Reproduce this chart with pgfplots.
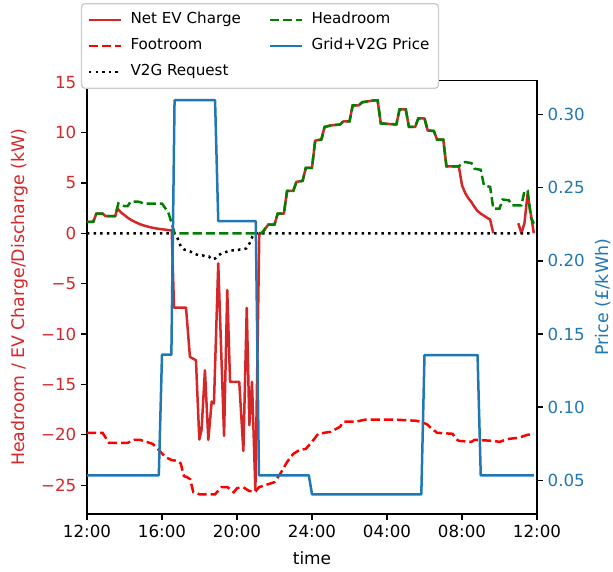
\documentclass[border=0pt]{standalone}
\usepackage{fontspec}
\setmainfont{DejaVu Sans}
\usepackage{pgfplots}
\pgfplotsset{compat=1.18}
\definecolor{tabred}{HTML}{D62728}
\definecolor{tabblue}{HTML}{1F77B4}
\definecolor{mplgreen}{HTML}{008000}
\definecolor{pured}{HTML}{FF0000}
\begin{document}
\begin{tikzpicture}
\pgfplotsset{
  every axis/.append style={
    scale only axis, width=324pt, height=312.1pt, xmin=0, xmax=24,
    at={(0pt,0pt)}, anchor=south west,
    axis line style={line width=0.96pt},
    tick align=outside, major tick length=4.2pt,
    every tick/.style={line width=0.96pt, black},
    tick label style={font=\fontsize{12}{14}\selectfont},
    unbounded coords=jump,
  },
}
\begin{axis}[
  ymin=-27.86, ymax=15.16,
  tick pos=left,
  xtick={0,4,8,12,16,20,24},
  xticklabels={12:00,16:00,20:00,24:00,04:00,08:00,12:00},
  ytick={-25,-20,-15,-10,-5,0,5,10,15},
  yticklabels={−25,−20,−15,−10,−5,0,5,10,15},
  yticklabel style={text=tabred},
  xlabel={time},
  ylabel={Headroom / EV Charge/Discharge (kW)},
  every axis y label/.style={at={(axis description cs:-0.149,0.5)},rotate=90,anchor=center,text=tabred,font=\fontsize{12.5}{15}\selectfont},
  every axis x label/.style={at={(axis description cs:0.5,-0.101)},anchor=center,font=\fontsize{12.2}{15}\selectfont},
]
% Net EV Charge
\addplot[tabred, line width=1.8pt, line join=round] coordinates {
(0,1.12)(0.33,1.12)(0.5,1.95)(0.83,1.95)(1.0,1.69)(1.5,1.69)(1.62,2.45)
(1.83,2.05)(2.0,1.8)(2.17,1.55)(2.33,1.35)(2.5,1.18)(2.67,1.03)(2.83,0.9)
(3.0,0.79)(3.17,0.7)(3.33,0.62)(3.5,0.55)(3.67,0.49)(3.83,0.44)(4.0,0.4)
(4.17,0.36)(4.33,0.32)(4.52,0.28)
(4.64,-7.37)(5.28,-7.37)(5.49,-12.27)(5.81,-12.6)(5.99,-20.47)(6.11,-19.5)
(6.29,-13.6)(6.47,-20.5)(6.65,-16.7)(6.77,-16.9)(7.0,-3.0)(7.31,-20.1)
(7.48,-5.65)(7.63,-14.75)(8.12,-14.75)(8.34,-21.6)(8.52,-7.4)(8.66,-19.05)
(8.8,-14.75)(8.98,-25.5)(9.19,0)
(9.33,0.03)(9.67,0.86)(10.0,0.86)(10.17,1.95)(10.5,1.95)(10.67,4.2)(11.0,4.2)
(11.17,5.1)(11.5,5.2)(11.67,6.5)(12.0,6.5)(12.17,9.2)(12.5,9.3)(12.67,10.55)
(13.0,10.7)(13.5,10.8)(13.67,11.1)(14.0,11.1)(14.17,12.7)(14.5,12.7)(14.67,13.0)
(15.0,13.1)(15.33,13.2)(15.5,13.2)(15.67,10.9)(16.5,10.8)(16.67,12.3)(17.0,12.3)
(17.17,10.55)(17.5,10.55)(17.67,11.4)(18.0,11.4)(18.17,10.2)(18.5,10.15)
(18.67,9.3)(19.0,9.3)(19.17,6.65)(19.83,6.65)
(20.0,4.76)(20.17,4.0)(20.33,3.5)(20.5,3.1)(20.67,2.6)(20.83,2.2)(21.0,1.95)
(21.17,1.75)(21.33,1.55)(21.5,1.36)(21.67,0)(21.83,nan)
(23.0,1.0)(23.17,0)(23.33,1.0)(23.5,3.94)(23.83,0)
};
% Footroom
\addplot[pured, line width=1.8pt, dash pattern=on 6.66pt off 2.88pt] coordinates {
(0,-19.8)(0.83,-19.8)(1.17,-20.8)(2.17,-20.8)(2.5,-20.5)(2.83,-20.5)(3.17,-20.7)
(3.5,-20.9)(3.83,-21.5)(4.17,-22.2)(4.5,-22.5)(4.83,-22.6)(5.0,-22.85)
(5.17,-24.1)(5.33,-24.2)(5.5,-24.4)(5.67,-25.7)(6.0,-25.9)(6.83,-25.9)
(7.17,-25.2)(7.5,-25.2)(7.83,-25.7)(8.0,-25.3)(8.33,-25.2)(8.67,-25.6)
(9.0,-25.6)(9.17,-25.2)(9.5,-25.0)(10.0,-24.7)(10.33,-23.8)(10.67,-22.7)
(11.0,-21.9)(11.33,-21.5)(11.67,-21.4)(12.0,-20.7)(12.33,-19.9)(13.0,-19.7)
(13.5,-19.2)(13.67,-18.7)(14.33,-18.7)(14.83,-18.5)(16.5,-18.5)(17.5,-18.6)
(17.83,-18.7)(18.17,-19.0)(18.33,-19.3)(18.67,-19.8)(19.5,-19.9)(19.67,-20.4)
(19.83,-20.6)(20.5,-20.7)(20.67,-20.5)(21.67,-20.6)(22.0,-20.7)(22.33,-20.5)
(22.5,-20.4)(23.0,-20.3)(23.5,-20.0)(23.83,-19.9)
};
% V2G Request
\addplot[black, line width=1.8pt, dash pattern=on 1.8pt off 2.97pt] coordinates {
(0,0)(4.67,0)(4.83,-0.5)(5.0,-1.3)(5.17,-1.6)(5.33,-1.7)(5.5,-1.8)(5.67,-2.0)
(5.83,-2.1)(6.0,-2.2)(6.17,-2.2)(6.33,-2.3)(6.5,-2.3)(6.67,-2.6)(6.83,-2.5)
(7.0,-2.2)(7.17,-2.0)(7.33,-1.9)(7.5,-1.8)(7.67,-1.7)(7.83,-1.7)(8.0,-1.7)
(8.17,-1.6)(8.33,-1.6)(8.5,-1.5)(8.67,-1.0)(8.83,-0.3)(9.0,0)(23.83,0)
};
% Headroom
\addplot[mplgreen, line width=1.8pt, dash pattern=on 6.66pt off 2.88pt] coordinates {
(0,1.12)(0.33,1.12)(0.5,1.95)(0.83,1.95)(1.0,1.69)(1.5,1.69)(1.67,2.95)
(1.83,2.8)(2.0,2.7)(2.17,2.7)(2.33,3.15)(2.67,3.15)(2.83,3.1)(3.0,2.95)
(4.0,2.95)(4.17,2.5)(4.33,2.1)(4.5,1.1)(4.67,0)(9.17,0)
(9.33,0.03)(9.67,0.86)(10.0,0.86)(10.17,1.95)(10.5,1.95)(10.67,4.2)(11.0,4.2)
(11.17,5.1)(11.5,5.2)(11.67,6.5)(12.0,6.5)(12.17,9.2)(12.5,9.3)(12.67,10.55)
(13.0,10.7)(13.5,10.8)(13.67,11.1)(14.0,11.1)(14.17,12.7)(14.5,12.7)(14.67,13.0)
(15.0,13.1)(15.33,13.2)(15.5,13.2)(15.67,10.9)(16.5,10.8)(16.67,12.3)(17.0,12.3)
(17.17,10.55)(17.5,10.55)(17.67,11.4)(18.0,11.4)(18.17,10.2)(18.5,10.15)
(18.67,9.3)(19.0,9.3)(19.17,6.65)(19.83,6.65)(20.0,6.9)(20.17,7.07)(20.5,6.97)
(20.67,6.4)(21.0,6.3)(21.17,4.76)(21.5,4.6)(21.67,2.45)(22.0,2.45)(22.17,3.35)
(22.5,3.27)(22.67,2.78)(23.17,2.78)(23.33,4.2)(23.5,4.2)(23.67,1.6)(23.83,0.96)
};
\end{axis}
\begin{axis}[
  ymin=0.02693, ymax=0.32327,
  axis x line=none,
  axis y line*=right,
  ytick={0.05,0.10,0.15,0.20,0.25,0.30},
  yticklabels={0.05,0.10,0.15,0.20,0.25,0.30},
  yticklabel style={text=tabblue},
  ylabel={Price (£/kWh)},
  every axis y label/.style={at={(axis description cs:1.147,0.5)},rotate=90,anchor=center,text=tabblue,font=\fontsize{12.5}{15}\selectfont},
  legend columns=2,
  legend cell align=left,
  legend image code/.code={\draw[#1] (0pt,0pt) -- (23pt,0pt);},
  legend style={at={(axis description cs:0.3844,1.1788)}, anchor=north,
    font=\fontsize{10.9}{13}\selectfont, draw=black!20, line width=0.96pt,
    rounded corners=2.5pt, fill=white, inner sep=4.5pt, row sep=4.2pt,
    nodes={inner sep=2pt, text height=8pt, text depth=2.5pt},
    /tikz/every odd column/.append style={column sep=4pt},
    /tikz/every even column/.append style={column sep=18pt}},
]
\addlegendimage{tabred, line width=1.8pt}
\addlegendentry{Net EV Charge}
\addlegendimage{mplgreen, line width=1.8pt, dash pattern=on 6.66pt off 2.88pt}
\addlegendentry{Headroom}
\addlegendimage{pured, line width=1.8pt, dash pattern=on 6.66pt off 2.88pt}
\addlegendentry{Footroom}
\addplot[tabblue, line width=1.8pt, line join=round] coordinates {
(0,0.0534)(3.83,0.0534)(4.0,0.1358)(4.5,0.1358)(4.67,0.3098)(6.83,0.3098)
(7.0,0.2272)(9.0,0.2272)(9.17,0.0534)(11.83,0.0534)(12.0,0.0404)(17.83,0.0404)
(18.0,0.1356)(20.83,0.1356)(21.0,0.0534)(23.83,0.0534)
};
\addlegendentry{Grid+V2G Price}
\addlegendimage{black, line width=1.8pt, dash pattern=on 1.8pt off 2.97pt}
\addlegendentry{V2G Request}
\end{axis}
\pgfresetboundingbox
\useasboundingbox (-62.64pt,-41.76pt) rectangle (378.72pt,370.08pt);
\end{tikzpicture}
\end{document}
